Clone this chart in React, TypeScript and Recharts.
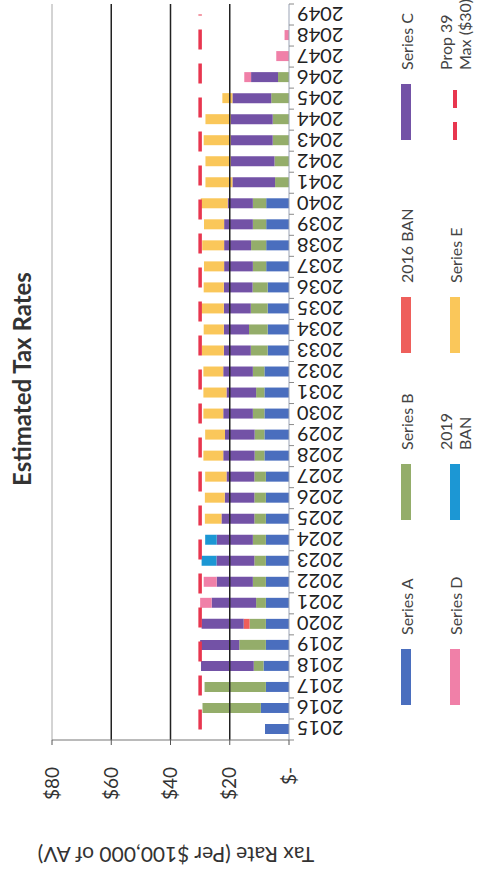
import React from "react";
import { ComposedChart, Bar, Line, XAxis, YAxis, ReferenceLine } from "recharts";

// chart is drawn upright, then the whole sheet is turned a quarter turn (as in the scan)
const years = [
  "2015", "2016", "2017", "2018", "2019", "2020", "2021", "2022", "2023", "2024",
  "2025", "2026", "2027", "2028", "2029", "2030", "2031", "2032", "2033", "2034",
  "2035", "2036", "2037", "2038", "2039", "2040", "2041", "2042", "2043", "2044",
  "2045", "2046", "2047", "2048", "2049",
];
const seriesA = [
  8.1, 9.5, 7.8, 8.6, 7.8, 7.8, 7.8, 7.8, 7.8, 7.8,
  7.8, 7.8, 7.8, 8.3, 8.3, 8.3, 8.3, 8.3, 7.2, 7.2,
  7.2, 7.2, 7.7, 7.7, 7.7, 7.7, 0, 0, 0, 0,
  0, 0, 0, 0, 0,
];
const seriesB = [
  0, 19.7, 20.7, 3.3, 9, 5.5, 3.3, 4.4, 3.9, 4.4,
  3.9, 3.9, 3.9, 3.3, 3.3, 3.9, 2.8, 3.9, 5.7, 6.3,
  5.7, 5.1, 4.5, 5.1, 4.5, 4.5, 4.7, 4.9, 5.5, 5.5,
  6, 3.7, 0, 0, 0,
];
const ban2016 = [
  0, 0, 0, 0, 0, 2, 0, 0, 0, 0,
  0, 0, 0, 0, 0, 0, 0, 0, 0, 0,
  0, 0, 0, 0, 0, 0, 0, 0, 0, 0,
  0, 0, 0, 0, 0,
];
const seriesC = [
  0, 0, 0, 17.8, 13.2, 14.2, 15, 12.2, 12.8, 12.2,
  11.1, 10, 9.4, 10.6, 10, 10, 10, 10, 9.1, 8.5,
  9.1, 9.7, 9.7, 9.1, 9.7, 8.5, 14.4, 14.8, 14.2, 14.2,
  13.1, 9.1, 0, 0, 0,
];
const seriesD = [
  0, 0, 0, 0, 0, 0, 3.9, 4.4, 0, 0,
  0, 0, 0, 0, 0, 0, 0, 0, 0, 0,
  0, 0, 0, 0, 0, 0, 0, 0, 0, 0,
  0, 2.3, 4.3, 1.5, 0,
];
const ban2019 = [
  0, 0, 0, 0, 0, 0, 0, 0, 5, 3.9,
  0, 0, 0, 0, 0, 0, 0, 0, 0, 0,
  0, 0, 0, 0, 0, 0, 0, 0, 0, 0,
  0, 0, 0, 0, 0,
];
const seriesE = [
  0, 0, 0, 0, 0, 0, 0, 0, 0, 0,
  5.6, 6.7, 7.2, 6.7, 6.7, 6.7, 7.8, 6.7, 7.4, 6.8,
  8, 6.8, 6.8, 7.4, 6.8, 9.1, 9.1, 8.5, 9.1, 8.5,
  3.4, 0, 0, 0, 0,
];
const prop39 = [
  30, 30, 30, 30, 30, 30, 30, 30, 30, 30,
  30, 30, 30, 30, 30, 30, 30, 30, 30, 30,
  30, 30, 30, 30, 30, 30, 30, 30, 30, 30,
  30, 30, 30, 30, 30,
];
const valueTicks = [0, 20, 40, 60, 80];

const data = years.map((year, i) => ({
  year,
  a: seriesA[i],
  b: seriesB[i],
  ban16: ban2016[i],
  c: seriesC[i],
  d: seriesD[i],
  ban19: ban2019[i],
  e: seriesE[i],
  prop: prop39[i],
}));

const W = 874;
const H = 487;
const PLOT_LEFT = 134;
const PLOT_RIGHT = 870;
const PLOT_TOP = 52;
const PLOT_BOTTOM = 289;
const HALF_BAND = (PLOT_RIGHT - PLOT_LEFT) / years.length / 2;
const FONT = "Lato, 'Open Sans', sans-serif";

const colors = {
  a: "#4A6EBE",
  b: "#94AD6A",
  ban16: "#EE5F5B",
  c: "#7352A6",
  d: "#F080A8",
  ban19: "#1C97D4",
  e: "#FAC75A",
  prop: "#E8364F",
};

const YearTick = (props: any) => {
  const { x, payload, index } = props;
  return (
    <g>
      <line x1={x - HALF_BAND} x2={x - HALF_BAND} y1={PLOT_BOTTOM} y2={PLOT_BOTTOM + 5} stroke="#8a8a8a" />
      {index === years.length - 1 && (
        <line x1={x + HALF_BAND} x2={x + HALF_BAND} y1={PLOT_BOTTOM} y2={PLOT_BOTTOM + 5} stroke="#8a8a8a" />
      )}
      <text
        transform={`translate(${x},${PLOT_BOTTOM + 8}) rotate(-90)`}
        textAnchor="end"
        dominantBaseline="central"
        fontSize={20}
        fontFamily={FONT}
        fill="#222"
      >
        {payload.value}
      </text>
    </g>
  );
};

const legendItems = [
  { label: ["Series A"], color: colors.a, x: 169, row: 0 },
  { label: ["Series B"], color: colors.b, x: 354, row: 0 },
  { label: ["2016 BAN"], color: colors.ban16, x: 521, row: 0 },
  { label: ["Series C"], color: colors.c, x: 734, row: 0 },
  { label: ["Series D"], color: colors.d, x: 169, row: 1 },
  { label: ["2019", "BAN"], color: colors.ban19, x: 354, row: 1 },
  { label: ["Series E"], color: colors.e, x: 521, row: 1 },
  { label: ["Prop 39", "Max ($30)"], color: colors.prop, x: 734, row: 1, dashed: true },
];

const Legend = () => (
  <>
    {legendItems.map((it) => {
      const cy = it.row === 0 ? 406 : 455;
      return (
        <div key={it.label.join(" ")}>
          {it.dashed ? (
            <>
              <div style={{ position: "absolute", left: it.x, top: cy - 2, width: 18, height: 4, background: it.color }} />
              <div style={{ position: "absolute", left: it.x + 32, top: cy - 2, width: 18, height: 4, background: it.color }} />
            </>
          ) : (
            <div style={{ position: "absolute", left: it.x, top: cy - 5, width: 56, height: 10, background: it.color }} />
          )}
          <div
            style={{
              position: "absolute",
              left: it.x + 70,
              top: cy - it.label.length * 9.5,
              fontFamily: FONT,
              fontSize: 16,
              lineHeight: "19px",
              color: "#444",
              whiteSpace: "nowrap",
            }}
          >
            {it.label.map((l) => (
              <div key={l}>{l}</div>
            ))}
          </div>
        </div>
      );
    })}
  </>
);

export default function App() {
  return (
    <div style={{ position: "fixed", left: 0, top: 0, width: 487, height: 874, overflow: "hidden", background: "#fff" }}>
      <div
        style={{
          position: "absolute",
          left: 0,
          top: 0,
          width: W,
          height: H,
          transformOrigin: "0 0",
          transform: `translate(0px, ${W}px) rotate(-90deg)`,
        }}
      >
        <ComposedChart
          width={W}
          height={H}
          data={data}
          margin={{ top: PLOT_TOP, right: W - PLOT_RIGHT, left: PLOT_LEFT - 60, bottom: H - PLOT_BOTTOM - 60 }}
          barSize={10}
        >
          <XAxis
            dataKey="year"
            interval={0}
            height={60}
            tickLine={false}
            axisLine={{ stroke: "#9aa3b5" }}
            tick={<YearTick />}
          />
          <YAxis
            width={60}
            domain={[0, 80]}
            ticks={valueTicks}
            tickFormatter={(v) => (v === 0 ? "$-" : `$${v}`)}
            tickSize={5}
            tickMargin={22}
            axisLine={{ stroke: "#777" }}
            tickLine={{ stroke: "#555" }}
            tick={{ fontSize: 19, fill: "#333", fontFamily: FONT }}
          />
          <YAxis yAxisId="r" orientation="right" width={0} domain={[0, 80]} tick={false} tickLine={false} axisLine={{ stroke: "#555" }} />

          <ReferenceLine y={80} stroke="#a8a8a8" />
          <ReferenceLine y={60} stroke="#222" strokeWidth={1.5} />
          <ReferenceLine y={40} stroke="#222" strokeWidth={1.5} />
          <ReferenceLine y={20} stroke="#222" strokeWidth={1.5} />

          <Bar dataKey="a" stackId="s" fill={colors.a} isAnimationActive={false} />
          <Bar dataKey="b" stackId="s" fill={colors.b} isAnimationActive={false} />
          <Bar dataKey="ban16" stackId="s" fill={colors.ban16} isAnimationActive={false} />
          <Bar dataKey="c" stackId="s" fill={colors.c} isAnimationActive={false} />
          <Bar dataKey="d" stackId="s" fill={colors.d} isAnimationActive={false} />
          <Bar dataKey="ban19" stackId="s" fill={colors.ban19} isAnimationActive={false} />
          <Bar dataKey="e" stackId="s" fill={colors.e} isAnimationActive={false} />
          <Line
            dataKey="prop"
            stroke={colors.prop}
            strokeWidth={3.5}
            strokeDasharray="20 14"
            dot={false}
            isAnimationActive={false}
          />
        </ComposedChart>

        {/* title */}
        <div
          style={{
            position: "absolute",
            left: 295,
            width: 400,
            top: 8,
            textAlign: "center",
            fontFamily: FONT,
            fontWeight: 700,
            fontSize: 24,
            lineHeight: "28px",
            color: "#333",
          }}
        >
          Estimated Tax Rates
        </div>

        {/* value axis title */}
        <div
          style={{
            position: "absolute",
            left: 19 - 200,
            top: 176 - 12,
            width: 400,
            height: 24,
            lineHeight: "24px",
            textAlign: "center",
            transform: "rotate(-90deg)",
            fontFamily: FONT,
            fontSize: 21,
            color: "#333",
            whiteSpace: "nowrap",
          }}
        >
          Tax Rate (Per $100,000 of AV)
        </div>

        <Legend />
      </div>
    </div>
  );
}
